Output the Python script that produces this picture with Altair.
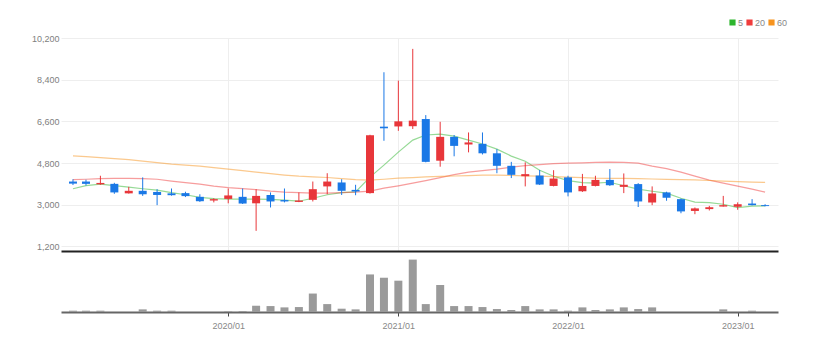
import altair as alt
import pandas as pd

months = ["2019-02", "2019-03", "2019-04", "2019-05", "2019-06", "2019-07", "2019-08", "2019-09",
          "2019-10", "2019-11", "2019-12", "2020-01", "2020-02", "2020-03", "2020-04", "2020-05",
          "2020-06", "2020-07", "2020-08", "2020-09", "2020-10", "2020-11", "2020-12", "2021-01",
          "2021-02", "2021-03", "2021-04", "2021-05", "2021-06", "2021-07", "2021-08", "2021-09",
          "2021-10", "2021-11", "2021-12", "2022-01", "2022-02", "2022-03", "2022-04", "2022-05",
          "2022-06", "2022-07", "2022-08", "2022-09", "2022-10", "2022-11", "2022-12", "2023-01",
          "2023-02", "2023-03"]
opens = [4000, 4000, 3880, 3900, 3490, 3600, 3550, 3490, 3500, 3340, 3180, 3250, 3340, 3060, 3420, 3200,
         3120, 3210, 3790, 3960, 3640, 3500, 6370, 6380, 6390, 6700, 4900, 5930, 5600, 5630, 5220, 4680,
         4230, 4260, 3810, 4180, 3580, 3810, 4070, 3770, 3890, 3095, 3530, 3240, 2730, 2810, 2920, 2910,
         3050, 2980]
highs = [4100, 4080, 4250, 3945, 3770, 4180, 3670, 3700, 3560, 3450, 3280, 3700, 3700, 3670, 3530, 3700,
         3530, 4000, 4360, 4100, 3860, 6020, 8720, 8360, 9730, 6870, 6580, 6010, 6120, 6120, 5400, 4850,
         4830, 4500, 4490, 4250, 4330, 4250, 4540, 4350, 3930, 3790, 3560, 3270, 2880, 2950, 3380, 3100,
         3240, 3020]
lows = [3850, 3830, 3860, 3470, 3480, 3380, 2980, 3390, 3330, 3120, 3100, 3060, 3030, 1870, 2880, 3100,
        3110, 3140, 3450, 3420, 3410, 3480, 5760, 6190, 6270, 4830, 4640, 5090, 5260, 5170, 4360, 4150,
        3790, 3850, 3790, 3360, 3550, 3790, 3810, 3500, 2900, 2980, 3170, 2630, 2590, 2750, 2920, 2780,
        2970, 2930]
closes = [3910, 3900, 3940, 3530, 3600, 3450, 3420, 3410, 3370, 3150, 3240, 3400, 3050, 3380, 3140, 3140,
          3180, 3670, 4000, 3600, 3570, 6000, 6300, 6600, 6630, 4850, 5930, 5540, 5690, 5220, 4680, 4290,
          4320, 3870, 4130, 3530, 3810, 4070, 3840, 3860, 3140, 3485, 3300, 2710, 2840, 2890, 2980, 3020,
          2980, 2940]
volumes = [4, 4, 4, 0, 0, 8, 4, 4, 0, 0, 0, 2, 3, 19, 18, 14, 15, 56, 24, 10, 8, 114, 104, 95, 159, 24,
           82, 18, 18, 15, 9, 6, 18, 8, 8, 4, 14, 6, 8, 14, 9, 14, 0, 0, 0, 0, 8, 0, 4, 0]
ma5 = [3690, 3820, 3890, 3820, 3760, 3690, 3630, 3520, 3430, 3320, 3260, 3240, 3240, 3240, 3230, 3195,
       3150, 3280, 3430, 3520, 3550, 4190, 4710, 5270, 5790, 6010, 6050, 5960, 5790, 5620, 5400, 5100,
       4880, 4490, 4230, 4040, 3950, 3930, 3970, 3820, 3670, 3580, 3500, 3280, 3110, 3090, 3020, 2870,
       2935, 2950]
ma20 = [4080, 4100, 4125, 4135, 4135, 4125, 4100, 4020, 3950, 3890, 3800, 3735, 3690, 3650, 3585, 3540,
        3520, 3500, 3500, 3520, 3540, 3585, 3714, 3815, 3930, 4040, 4170, 4300, 4405, 4470, 4535, 4620,
        4690, 4730, 4775, 4795, 4810, 4825, 4840, 4830, 4795, 4665, 4560, 4405, 4235, 4060, 3930, 3800,
        3670, 3540]
ma60 = [5110, 5080, 5030, 4990, 4950, 4880, 4820, 4750, 4710, 4670, 4600, 4540, 4470, 4405, 4340, 4280,
        4230, 4200, 4175, 4125, 4080, 4060, 4100, 4145, 4170, 4200, 4225, 4240, 4255, 4275, 4275, 4265,
        4245, 4235, 4210, 4190, 4170, 4145, 4140, 4135, 4125, 4110, 4095, 4080, 4070, 4045, 4015, 3995,
        3975, 3960]
price_ticks = [1200, 3000, 4800, 6600, 8400, 10200]
year_ticks = [2020, 2021, 2022, 2023]
ma_names = ["5", "20", "60"]
ma_colors = ["#2db52d", "#f03c3c", "#f7931e"]

RED = "#e8363a"
BLUE = "#1a78e6"
FONT = "Liberation Sans"

dates = [m + "-01" for m in months]
df = pd.DataFrame({"date": dates, "open": opens, "high": highs, "low": lows,
                   "close": closes, "vol": volumes})
ma_df = pd.DataFrame({"date": dates * 3,
                      "ma": ["5"] * len(dates) + ["20"] * len(dates) + ["60"] * len(dates),
                      "value": ma5 + ma20 + ma60})

x_domain = [alt.DateTime(year=2019, month=1, date=17, utc=True),
            alt.DateTime(year=2023, month=3, date=18, utc=True)]
tick_vals = [alt.DateTime(year=y, month=1, date=1, utc=True) for y in year_ticks]
xscale = alt.Scale(type="utc", domain=x_domain)

candle_color = alt.condition("datum.close >= datum.open", alt.value(RED), alt.value(BLUE))

x_price = alt.X("date:T", scale=xscale,
                axis=alt.Axis(values=tick_vals, labels=False, ticks=False, title=None,
                              grid=True, gridColor="#eeeeee", domainColor="#222222",
                              domainWidth=2, minExtent=0, maxExtent=0))
y_price = alt.Scale(domain=[1000, 10200], nice=False, zero=False)

lines = alt.Chart(ma_df).mark_line(strokeWidth=1.2, opacity=0.5).encode(
    x=x_price,
    y=alt.Y("value:Q", scale=y_price,
            axis=alt.Axis(values=price_ticks, format=",.0f", title=None, domain=False, ticks=False,
                          labelPadding=2, labelFontSize=9, labelColor="#808080", labelFont=FONT,
                          gridColor="#eeeeee")),
    color=alt.Color("ma:N", scale=alt.Scale(domain=ma_names, range=ma_colors),
                    sort=ma_names,
                    legend=alt.Legend(title=None, orient="none", legendX=667, legendY=-20,
                                      direction="horizontal", symbolType="square",
                                      symbolSize=10, symbolStrokeWidth=3, symbolOpacity=1,
                                      labelFontSize=9, labelColor="#888888", labelFont=FONT,
                                      labelOffset=1, columnPadding=-3, gridAlign="none",
                                      padding=0)),
)

wicks = alt.Chart(df).mark_rule(strokeWidth=1).encode(
    x="date:T", y=alt.Y("low:Q", scale=y_price), y2="high:Q", color=candle_color)

bodies = alt.Chart(df).mark_bar(size=8).encode(
    x="date:T", y=alt.Y("open:Q", scale=y_price), y2="close:Q", color=candle_color)

price = alt.layer(lines, wicks, bodies).properties(width=717, height=213)

volume = alt.Chart(df).mark_bar(size=8, color="#9a9a9a").encode(
    x=alt.X("date:T", scale=xscale,
            axis=alt.Axis(values=tick_vals, format="%Y/%m", title=None, grid=False,
                          labelFontSize=9, labelColor="#888888", labelFont=FONT,
                          tickColor="#444444", tickSize=4, labelPadding=5,
                          domainColor="#666666", domainWidth=2)),
    y=alt.Y("vol:Q", scale=alt.Scale(domain=[0, 176]), axis=None),
).properties(width=717, height=58)

chart = alt.vconcat(price, volume, spacing=2).properties(
    padding={"left": 31, "top": 18, "right": 20, "bottom": 5}
).configure_view(stroke=None)

chart.save("out.html", embed_options={"renderer": "svg", "actions": False})
